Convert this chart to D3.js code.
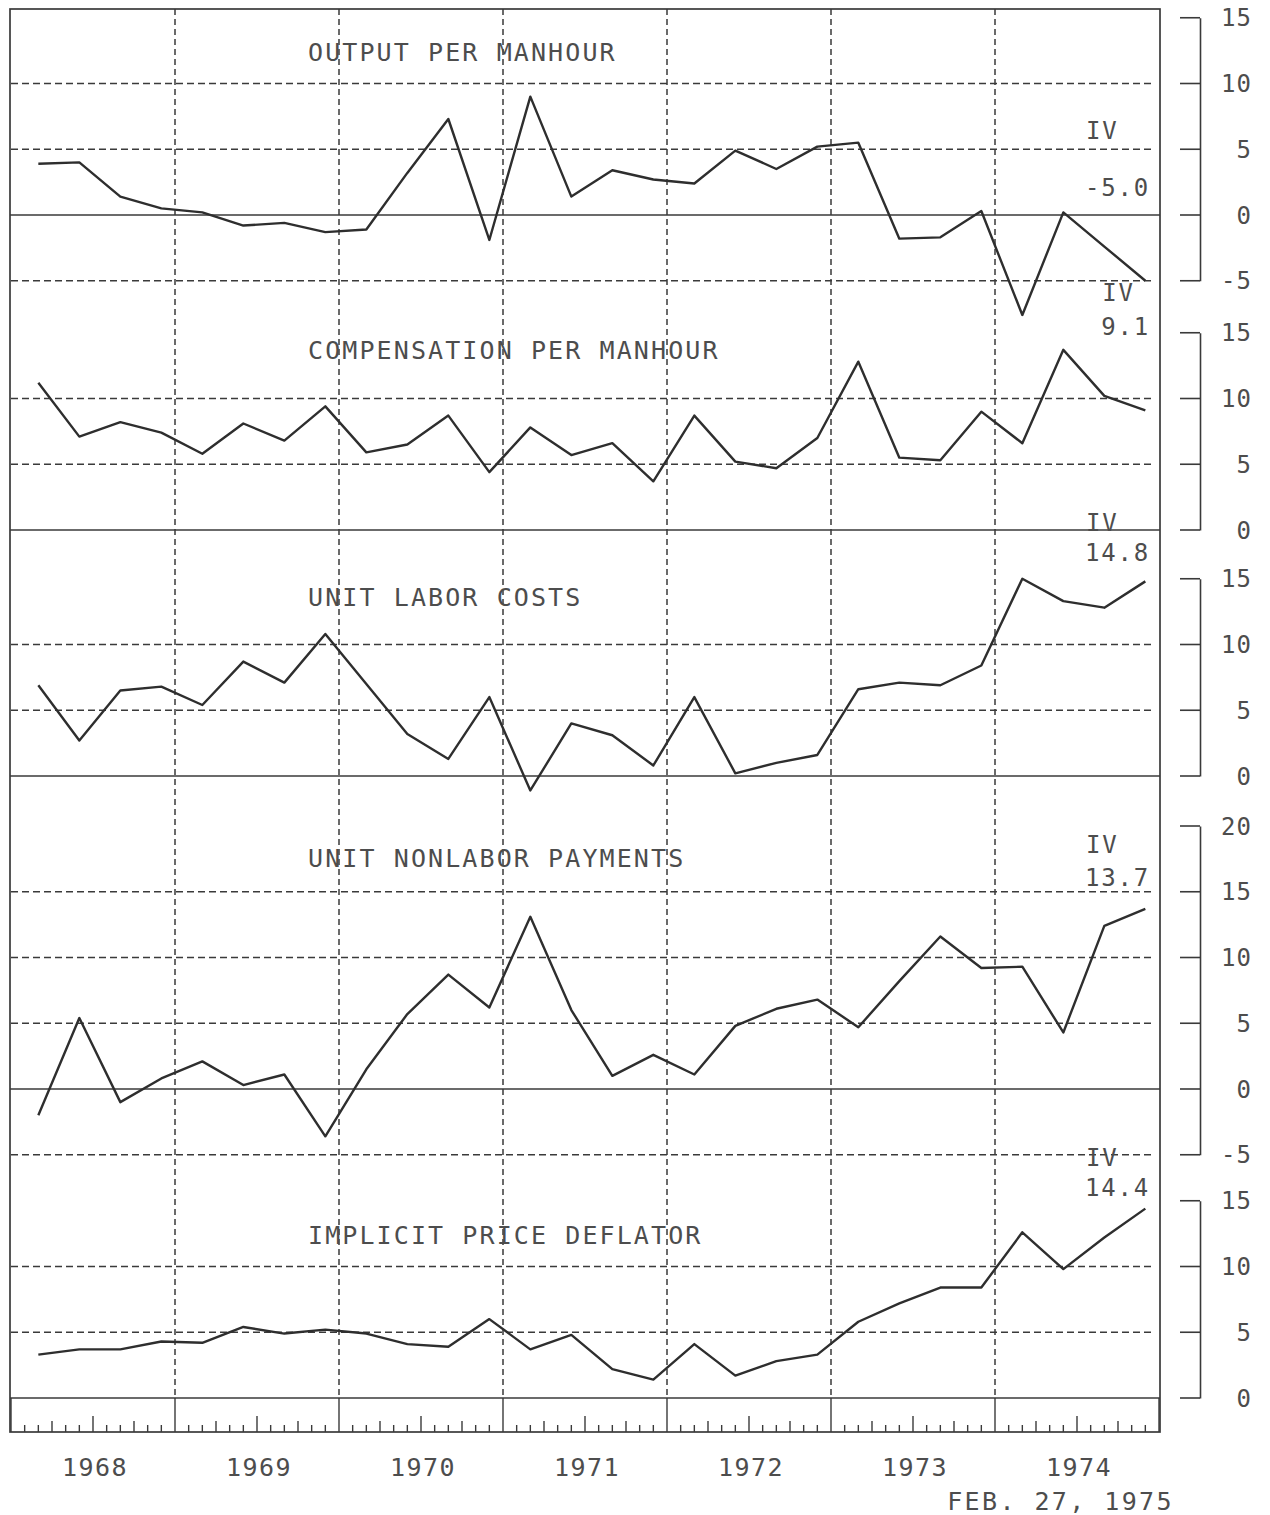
<!DOCTYPE html>
<html>
<head>
<meta charset="utf-8">
<script src="https://cdn.jsdelivr.net/npm/d3@7"></script>
<style>
  body { margin: 0; background: #fff; }
  svg { display: block; }
  text { font-family: "DejaVu Sans Mono", "Liberation Mono", monospace; fill: #4d4d4d; }
</style>
</head>
<body>
<div id="chart"></div>
<script>
/* Quarterly series, 1968 I - 1974 IV (percent change, annual rate) */
const years = [1968, 1969, 1970, 1971, 1972, 1973, 1974];
const quarterNames = ["I", "II", "III", "IV"];

const outputPerManhour = [3.9, 4.0, 1.4, 0.5, 0.2, -0.8, -0.6, -1.3, -1.1, 3.2, 7.3, -1.9, 9.0, 1.4,
  3.4, 2.7, 2.4, 4.9, 3.5, 5.2, 5.5, -1.8, -1.7, 0.3, -7.6, 0.2, -2.4, -5.0];
const compensationPerManhour = [11.2, 7.1, 8.2, 7.4, 5.8, 8.1, 6.8, 9.4, 5.9, 6.5, 8.7, 4.4, 7.8, 5.7,
  6.6, 3.7, 8.7, 5.2, 4.7, 7.0, 12.8, 5.5, 5.3, 9.0, 6.6, 13.7, 10.2, 9.1];
const unitLaborCosts = [6.9, 2.7, 6.5, 6.8, 5.4, 8.7, 7.1, 10.8, 7.0, 3.2, 1.3, 6.0, -1.1, 4.0,
  3.1, 0.8, 6.0, 0.2, 1.0, 1.6, 6.6, 7.1, 6.9, 8.4, 15.0, 13.3, 12.8, 14.8];
const unitNonlaborPayments = [-2.0, 5.4, -1.0, 0.8, 2.1, 0.3, 1.1, -3.6, 1.5, 5.7, 8.7, 6.2, 13.1, 6.0,
  1.0, 2.6, 1.1, 4.8, 6.1, 6.8, 4.7, 8.2, 11.6, 9.2, 9.3, 4.3, 12.4, 13.7];
const implicitPriceDeflator = [3.3, 3.7, 3.7, 4.3, 4.2, 5.4, 4.9, 5.2, 4.9, 4.1, 3.9, 6.0, 3.7, 4.8,
  2.2, 1.4, 4.1, 1.7, 2.8, 3.3, 5.8, 7.2, 8.4, 8.4, 12.6, 9.8, 12.2, 14.4];

const panelTitles = ["OUTPUT PER MANHOUR", "COMPENSATION PER MANHOUR", "UNIT LABOR COSTS",
  "UNIT NONLABOR PAYMENTS", "IMPLICIT PRICE DEFLATOR"];
const panelSeries = [outputPerManhour, compensationPerManhour, unitLaborCosts,
  unitNonlaborPayments, implicitPriceDeflator];
const panelTicks = [[-5, 0, 5, 10, 15], [0, 5, 10, 15], [0, 5, 10, 15], [-5, 0, 5, 10, 15, 20], [0, 5, 10, 15]];
const lastValueLabels = ["-5.0", "9.1", "14.8", "13.7", "14.4"];
const dateStamp = "FEB. 27, 1975";

// quarter list built from the categories
const quarters = years.flatMap(y => quarterNames.map((q, i) => ({year: y, q: i, name: q})));

/* Layout */
const width = 1270, height = 1515;
const frame = {left: 10, right: 1160, top: 9, bottom: 1432};
const unit = 13.15;                                  // px per percentage point
const zeroY = [215, 530, 776, 1089, 1398];           // baseline of each panel
const titleAt = [12.4, 13.7, 13.6, 17.6, 12.4];      // title height in panel units
const ivAt = [[6.4, 2.1], [18.1, 15.5], [19.3, 17.0], [18.6, 16.1], [18.3, 16.0]];
const stripBottom = frame.bottom, stripTop = zeroY[4];

const svg = d3.select("#chart").append("svg")
  .attr("width", width).attr("height", height)
  .attr("viewBox", [0, 0, width, height]);

const ink = "#3a3a3a";

// time scale in years
const x = d3.scaleLinear().domain([1968, 1975]).range([frame.left + 1, frame.right - 1]);
const qx = d => d.year + (3 * d.q + 2) / 12;

// frame
svg.append("rect")
  .attr("x", frame.left).attr("y", frame.top)
  .attr("width", frame.right - frame.left).attr("height", frame.bottom - frame.top)
  .attr("fill", "none").attr("stroke", ink).attr("stroke-width", 1.7);

// vertical dashed year lines
svg.append("g").selectAll("line")
  .data(years.slice(1))
  .join("line")
    .attr("x1", d => x(d)).attr("x2", d => x(d))
    .attr("y1", frame.top).attr("y2", stripTop)
    .attr("stroke", ink).attr("stroke-width", 1.5)
    .attr("stroke-dasharray", "6,4");

// month ticks on the bottom strip
const months = d3.range(0, 7 * 12 + 1);
svg.append("g").selectAll("line")
  .data(months)
  .join("line")
    .attr("x1", k => x(1968 + k / 12)).attr("x2", k => x(1968 + k / 12))
    .attr("y1", stripBottom)
    .attr("y2", k => k % 12 === 0 ? stripTop : k % 6 === 0 ? stripBottom - 16 : k % 3 === 0 ? stripBottom - 11 : stripBottom - 7)
    .attr("stroke", ink).attr("stroke-width", 1.4);

// year labels
svg.append("g").selectAll("text")
  .data(years)
  .join("text")
    .attr("x", d => x(d + 0.5) + 2)
    .attr("y", 1476)
    .attr("text-anchor", "middle")
    .style("font-size", "25px")
    .style("letter-spacing", "1.5px")
    .text(d => d);

panelSeries.forEach((values, p) => {
  const ticks = panelTicks[p];
  const lo = ticks[0], hi = ticks[ticks.length - 1];
  const y = d3.scaleLinear()
    .domain([lo, hi])
    .range([zeroY[p] - lo * unit, zeroY[p] - hi * unit]);

  const g = svg.append("g");

  // dashed horizontal grid (not at zero, not at the top tick)
  g.selectAll("line.grid")
    .data(ticks.filter(t => t !== 0 && t !== hi))
    .join("line")
      .attr("class", "grid")
      .attr("x1", frame.left + 1).attr("x2", frame.right - 5)
      .attr("y1", d => y(d)).attr("y2", d => y(d))
      .attr("stroke", ink).attr("stroke-width", 1.5)
      .attr("stroke-dasharray", "7,4");

  // zero line
  g.append("line")
    .attr("x1", frame.left).attr("x2", frame.right)
    .attr("y1", y(0)).attr("y2", y(0))
    .attr("stroke", ink).attr("stroke-width", 1.7);

  // right scale bracket
  const axis = d3.axisRight(y).tickValues(ticks).tickSize(0).tickFormat("");
  const ag = g.append("g").attr("transform", `translate(1200,0)`).call(axis);
  ag.select(".domain").attr("stroke", ink).attr("stroke-width", 1.6);
  g.selectAll("line.btick")
    .data(ticks)
    .join("line")
      .attr("class", "btick")
      .attr("x1", 1180).attr("x2", 1200)
      .attr("y1", d => y(d)).attr("y2", d => y(d))
      .attr("stroke", ink).attr("stroke-width", 1.6);
  g.selectAll("text.blabel")
    .data(ticks)
    .join("text")
      .attr("class", "blabel")
      .attr("x", 1252)
      .attr("y", d => y(d))
      .attr("dy", "0.36em")
      .attr("text-anchor", "end")
      .style("font-size", "24px")
      .style("letter-spacing", "1px")
      .text(d => d);

  // title
  g.append("text")
    .attr("x", 308)
    .attr("y", y(titleAt[p]))
    .attr("dy", "0.36em")
    .style("font-size", "25px")
    .style("letter-spacing", "2.1px")
    .text(panelTitles[p]);

  // series line
  const line = d3.line()
    .x((d, i) => x(qx(quarters[i])))
    .y(d => y(d));
  g.append("path")
    .datum(values)
    .attr("d", line)
    .attr("fill", "none")
    .attr("stroke", "#2e2e2e")
    .attr("stroke-width", 2.4)
    .attr("stroke-linejoin", "round");

  // last quarter annotation
  const valText = g.append("text")
    .attr("x", 1150)
    .attr("y", y(ivAt[p][1]))
    .attr("dy", "0.36em")
    .attr("text-anchor", "end")
    .style("font-size", "24px")
    .style("letter-spacing", "1.8px")
    .text(lastValueLabels[p]);
  const bb = valText.node().getBBox();
  g.append("text")
    .attr("x", bb.x + 1)
    .attr("y", y(ivAt[p][0]))
    .attr("dy", "0.36em")
    .style("font-size", "24px")
    .style("letter-spacing", "1.8px")
    .text(quarterNames[3]);
});

// date stamp
svg.append("text")
  .attr("x", 1174)
  .attr("y", 1510)
  .attr("text-anchor", "end")
  .style("font-size", "25px")
  .style("letter-spacing", "2.4px")
  .text(dateStamp);
</script>
</body>
</html>
